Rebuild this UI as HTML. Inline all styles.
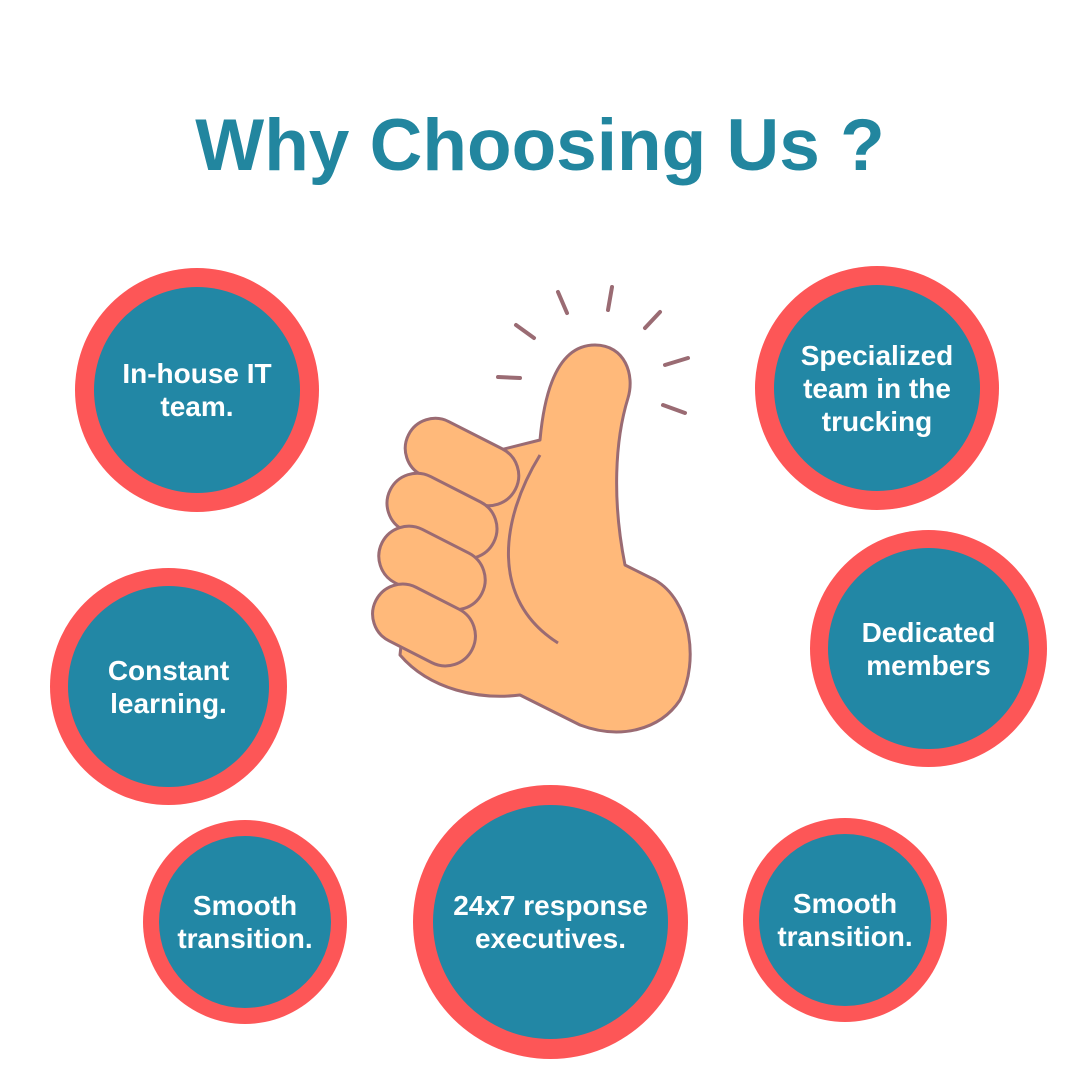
<!DOCTYPE html>
<html>
<head>
<meta charset="utf-8">
<style>
html,body{margin:0;padding:0;background:#fff;}
#page{position:relative;width:1080px;height:1080px;overflow:hidden;background:#fff;font-family:"Liberation Sans","DejaVu Sans",sans-serif;}
.title{position:absolute;left:0;top:104px;width:1080px;text-align:center;font-size:73px;font-weight:bold;color:#22869f;letter-spacing:0px;}
.c{position:absolute;border-radius:50%;background:#fd5657;}
.in{position:absolute;border-radius:50%;background:#2287a5;display:flex;align-items:center;justify-content:center;text-align:center;color:#fff;font-weight:bold;font-size:28px;line-height:33px;}
</style>
</head>
<body>
<div id="page">
<div class="title">Why Choosing Us ?</div>

<svg width="1080" height="1080" style="position:absolute;left:0;top:0">
<g stroke="#9a6b73" stroke-width="4" stroke-linecap="round">
<line x1="498" y1="377" x2="520" y2="378"/>
<line x1="516" y1="325" x2="534" y2="338"/>
<line x1="558" y1="292" x2="567" y2="313"/>
<line x1="612" y1="287" x2="608" y2="310"/>
<line x1="660" y1="312" x2="645" y2="328"/>
<line x1="665" y1="365" x2="688" y2="358"/>
<line x1="663" y1="405" x2="685" y2="413"/>
</g>
<g fill="#ffb97a" stroke="#9a6b73" stroke-width="3" stroke-linejoin="round">
<path d="M540 440 C545 385 560 345 595 345 C625 345 635 375 628 398 C615 440 612 500 625 565 L655 580 C690 600 700 660 680 700 C660 730 620 740 580 725 L520 695 C480 700 430 690 400 655 L420 470 Z"/>
<g transform="rotate(27 462 462)"><rect x="402" y="432" width="120" height="60" rx="30"/></g>
<g transform="rotate(27 442 516)"><rect x="384" y="486" width="116" height="60" rx="30"/></g>
<g transform="rotate(27 432 568)"><rect x="376" y="538" width="112" height="60" rx="30"/></g>
<g transform="rotate(27 424 625)"><rect x="370" y="595" width="108" height="60" rx="30"/></g>
<path fill="none" d="M540 455 C500 520 490 600 558 643"/>
</g>
</svg>

<div class="c" style="left:75px;top:268px;width:244px;height:244px;"></div>
<div class="in" style="left:94px;top:287px;width:206px;height:206px;">In-house IT<br>team.</div>

<div class="c" style="left:755px;top:266px;width:244px;height:244px;"></div>
<div class="in" style="left:774px;top:285px;width:206px;height:206px;">Specialized<br>team in the<br>trucking</div>

<div class="c" style="left:810px;top:530px;width:237px;height:237px;"></div>
<div class="in" style="left:828px;top:548px;width:201px;height:201px;">Dedicated<br>members</div>

<div class="c" style="left:50px;top:568px;width:237px;height:237px;"></div>
<div class="in" style="left:68px;top:586px;width:201px;height:201px;">Constant<br>learning.</div>

<div class="c" style="left:143px;top:820px;width:204px;height:204px;"></div>
<div class="in" style="left:159px;top:836px;width:172px;height:172px;">Smooth<br>transition.</div>

<div class="c" style="left:413px;top:785px;width:275px;height:274px;"></div>
<div class="in" style="left:433px;top:805px;width:235px;height:234px;">24x7 response<br>executives.</div>

<div class="c" style="left:743px;top:818px;width:204px;height:204px;"></div>
<div class="in" style="left:759px;top:834px;width:172px;height:172px;">Smooth<br>transition.</div>
</div>
</body>
</html>
